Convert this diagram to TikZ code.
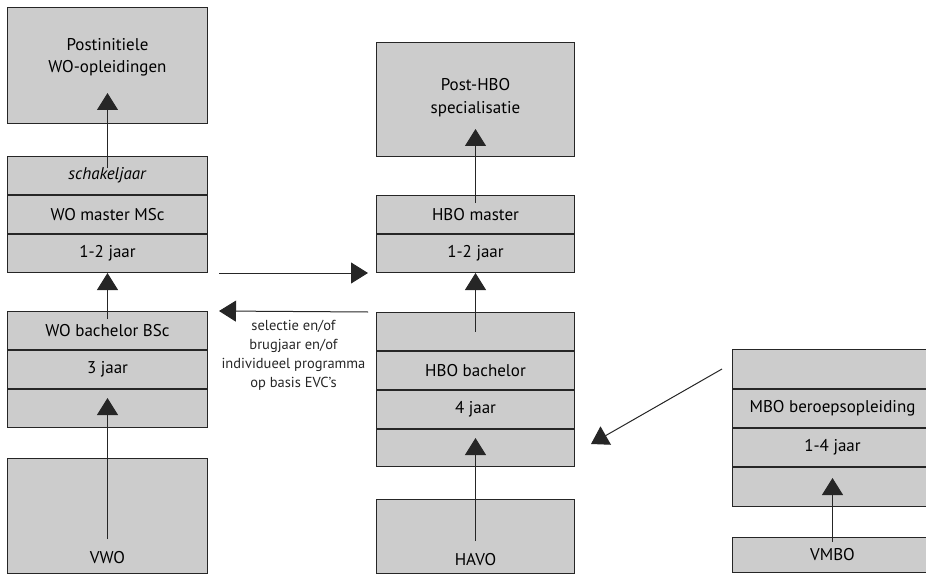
\documentclass[tikz,border=0pt]{standalone}
\usepackage{fontspec}
\setmainfont{PT Sans}
\usetikzlibrary{arrows.meta, positioning}
\definecolor{boxgray}{gray}{0.8}
\tikzset{
  rij/.style={draw=black!85, fill=boxgray, line width=1pt, minimum width=200pt, minimum height=38pt, inner sep=0pt},
  pijl/.style={-{Triangle[length=17pt, width=21pt]}, line width=1pt, black!85},
}

\begin{document}
\begin{tikzpicture}[x=1pt, y=-1pt, node distance=0pt, font=\fontsize{17}{18.5}\selectfont]
\useasboundingbox (0,0) rectangle (926,575);
\clip (0,0) rectangle (926,575);

% WO
\node[rij, anchor=north west, minimum height=116pt, label={[align=center, yshift=8pt]center:Postinitiele\\[4pt]WO-opleidingen}] (postwo) at (7,7) {};
\node[rij, anchor=north west] (schakel) at (7,156) {\textit{schakeljaar}};
\node[rij, below=of schakel] (womaster) {WO master MSc};
\node[rij, below=of womaster] (wojaar) {1-2 jaar};
\node[rij, anchor=north west] (wobach) at (7,311) {WO bachelor BSc};
\node[rij, below=of wobach] (wo3) {3 jaar};
\node[rij, below=of wo3] (woleeg) {};
\node[rij, anchor=north west, minimum height=115pt, label={[anchor=south, yshift=7pt]south:VWO}] (vwo) at (7,458) {};

% HBO
\node[rij, anchor=north west, minimum width=198pt, minimum height=114pt, label={[align=center, yshift=2pt]center:Post-HBO\\[4pt]specialisatie}] (posthbo) at (376,42) {};
\node[rij, anchor=north west, minimum width=198pt] (hbomaster) at (376,195) {HBO master};
\node[rij, minimum width=198pt, below=of hbomaster] (hbojaar) {1-2 jaar};
\node[rij, anchor=north west, minimum width=198pt] (hboleeg1) at (376,312) {};
\node[rij, minimum width=198pt, below=of hboleeg1] (hbobach) {HBO bachelor};
\node[rij, minimum width=198pt, below=of hbobach] (hbo4) {4 jaar};
\node[rij, minimum width=198pt, minimum height=37pt, below=of hbo4] (hboleeg2) {};
\node[rij, anchor=north west, minimum width=198pt, minimum height=74pt, label={[anchor=south, yshift=5pt]south:HAVO}] (havo) at (376,499) {};

% MBO
\node[rij, anchor=north west, minimum height=39pt] (mboleeg1) at (732,349) {};
\node[rij, below=of mboleeg1] (mbo) {MBO beroepsopleiding};
\node[rij, below=of mbo] (mbo14) {1-4 jaar};
\node[rij, minimum height=39pt, below=of mbo14] (mboleeg2) {};
\node[rij, anchor=north west, minimum height=35pt] (vmbo) at (732,537) {VMBO};

\draw[pijl] ([yshift=-12pt]schakel.north) -- ([yshift=31pt]postwo.south);
\draw[pijl] ([yshift=-8pt]wobach.north) -- (wojaar.south);
\draw[pijl] ([yshift=35pt]vwo.south) -- ([yshift=-9pt]woleeg.north);
\draw[pijl] ([yshift=-8pt]hbomaster.north) -- ([yshift=28pt]posthbo.south);
\draw[pijl] (hboleeg1.center) -- (hbojaar.south);
\draw[pijl] ([yshift=33pt]havo.south) -- ([yshift=-9pt]hboleeg2.north);
\draw[pijl] ([yshift=-5pt]vmbo.north) -- ([yshift=-11pt]mboleeg2.north);
\draw[pijl] ([xshift=11pt]wojaar.south east) -- ([xshift=-8pt]hbojaar.south west);
\draw[pijl] ([xshift=-8pt]hboleeg1.north west) -- node[below=5pt, align=center, font=\fontsize{14.5}{18.8}\selectfont] (toelating) {selectie en/of\\brugjaar en/of\\individueel programma\\op basis EVC's} ([xshift=11pt]wobach.north east);
\draw[pijl] ([xshift=-10pt]mboleeg1.west) -- ([xshift=16pt, yshift=4pt]hboleeg2.east);
\end{tikzpicture}
\end{document}
